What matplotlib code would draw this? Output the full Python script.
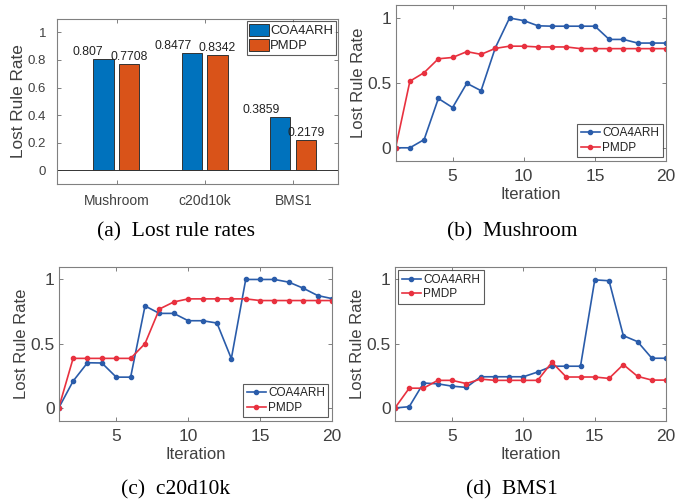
import matplotlib.pyplot as plt
import numpy as np

plt.rcParams['font.family'] = ['Liberation Sans', 'DejaVu Sans']

# (a) final lost rule rates
datasets = ["Mushroom", "c20d10k", "BMS1"]
coa_final = [0.807, 0.8477, 0.3859]
pmdp_final = [0.7708, 0.8342, 0.2179]

iterations = list(range(1, 21))

# (b) Mushroom
mush_coa = [0, 0, 0.063, 0.38, 0.31, 0.497, 0.44, 0.77, 1.0, 0.98,
            0.94, 0.937, 0.937, 0.937, 0.937, 0.835, 0.835, 0.807, 0.807, 0.807]
mush_pmdp = [0, 0.513, 0.579, 0.686, 0.696, 0.741, 0.72, 0.766, 0.783, 0.783,
             0.777, 0.777, 0.777, 0.764, 0.764, 0.764, 0.764, 0.764, 0.764, 0.764]

# (c) c20d10k
c20_coa = [0, 0.209, 0.352, 0.35, 0.24, 0.24, 0.794, 0.736, 0.736, 0.679,
           0.679, 0.661, 0.384, 1.0, 1.0, 1.0, 0.979, 0.932, 0.875, 0.851]
c20_pmdp = [0, 0.386, 0.386, 0.386, 0.386, 0.386, 0.501, 0.77, 0.825, 0.849,
            0.849, 0.849, 0.849, 0.849, 0.836, 0.836, 0.836, 0.836, 0.836, 0.836]

# (d) BMS1
bms_coa = [0, 0.01, 0.194, 0.188, 0.17, 0.16, 0.243, 0.243, 0.243, 0.243,
           0.28, 0.325, 0.325, 0.325, 0.997, 0.99, 0.563, 0.516, 0.387, 0.387]
bms_pmdp = [0, 0.154, 0.154, 0.215, 0.215, 0.19, 0.225, 0.215, 0.215, 0.215,
            0.215, 0.356, 0.241, 0.241, 0.241, 0.23, 0.338, 0.246, 0.217, 0.217]

TXT = "#404040"
SPINE = "#808080"
BLUE_BAR, ORANGE_BAR = "#0072BD", "#D95319"
BLUE_LINE, RED_LINE = "#2a5caa", "#e8313f"


def style_axes(ax, size):
    for s in ax.spines.values():
        s.set_color(SPINE)
        s.set_linewidth(0.8)
    ax.tick_params(direction="in", top=True, right=True, colors=SPINE,
                   labelcolor=TXT, labelsize=size, length=3, width=0.7)


def style_legend(leg):
    leg.get_frame().set_edgecolor("#333333")
    leg.get_frame().set_linewidth(0.8)
    for t in leg.get_texts():
        t.set_color("#222222")


def plot_iter(ax, coa, pmdp, legend_loc):
    ax.plot(iterations, coa, color=BLUE_LINE, marker="o", markersize=3,
            linewidth=1.2, label="COA4ARH")
    ax.plot(iterations, pmdp, color=RED_LINE, marker="o", markersize=3,
            linewidth=1.2, label="PMDP")
    ax.set_xlim(1, 20)
    ax.set_ylim(-0.1, 1.1)
    ax.set_xticks([5, 10, 15, 20])
    ax.set_yticks([0, 0.5, 1])
    ax.set_yticklabels(["0", "0.5", "1"])
    ax.set_xlabel("Iteration", color=TXT, fontsize=12, labelpad=2)
    ax.set_ylabel("Lost Rule Rate", color=TXT, fontsize=12, labelpad=1)
    style_axes(ax, 12.5)
    ax.tick_params(axis="x", pad=6)
    ax.tick_params(axis="y", pad=3)
    leg = ax.legend(loc=legend_loc, fontsize=8.5, frameon=True, fancybox=False,
                    handlelength=1.6, handletextpad=0.2, borderpad=0.3,
                    labelspacing=0.2, borderaxespad=0.3)
    style_legend(leg)


fig = plt.figure(figsize=(6.99, 5.04), dpi=100)

# (a)
ax_a = fig.add_axes([0.082, 0.635, 0.402, 0.328])
x = np.arange(1, len(datasets) + 1)
b1 = ax_a.bar(x - 0.147, coa_final, width=0.23, color=BLUE_BAR,
              edgecolor="#333333", linewidth=0.7, label="COA4ARH")
b2 = ax_a.bar(x + 0.143, pmdp_final, width=0.23, color=ORANGE_BAR,
              edgecolor="#333333", linewidth=0.7, label="PMDP")
ax_a.axhline(0, color="#333333", linewidth=0.7)
for rect, v in zip(b1, coa_final):
    ax_a.text(rect.get_x() + rect.get_width() / 2, v + 0.01, f"{v:g}",
              ha="right", va="bottom", fontsize=8.7, color="#222222")
for rect, v in zip(b2, pmdp_final):
    ax_a.text(rect.get_x() + rect.get_width() / 2, v + 0.01, f"{v:g}",
              ha="center", va="bottom", fontsize=8.7, color="#222222")
ax_a.set_xlim(0.33, 3.51)
ax_a.set_ylim(-0.1, 1.1)
ax_a.set_xticks(x)
ax_a.set_xticklabels(datasets)
ax_a.set_yticks([0, 0.2, 0.4, 0.6, 0.8, 1])
ax_a.set_yticklabels(["0", "0.2", "0.4", "0.6", "0.8", "1"])
ax_a.set_ylabel("Lost Rule Rate", color=TXT, fontsize=12.4, labelpad=1)
style_axes(ax_a, 9.5)
ax_a.tick_params(axis="x", labelsize=10, pad=7)
ax_a.tick_params(axis="y", pad=8)
leg = ax_a.legend(loc="upper right", fontsize=9.4, frameon=True, fancybox=False,
                  handlelength=1.5, handleheight=1.0, handletextpad=0.1,
                  borderpad=0.2, labelspacing=0.15, borderaxespad=0.2)
style_legend(leg)

# (b)
ax_b = fig.add_axes([0.566, 0.681, 0.387, 0.309])
plot_iter(ax_b, mush_coa, mush_pmdp, "lower right")

# (c)
ax_c = fig.add_axes([0.084, 0.165, 0.391, 0.306])
plot_iter(ax_c, c20_coa, c20_pmdp, "lower right")

# (d)
ax_d = fig.add_axes([0.565, 0.165, 0.388, 0.306])
plot_iter(ax_d, bms_coa, bms_pmdp, "upper left")

cap = dict(ha="center", va="baseline", fontsize=15.5,
           family="Liberation Serif", color="black")
fig.text(176 / 699, 1 - 236 / 504, "(a)  Lost rule rates", **cap)
fig.text(512 / 699, 1 - 236 / 504, "(b)  Mushroom", **cap)
fig.text(176 / 699, 1 - 494 / 504, "(c)  c20d10k", **cap)
fig.text(512 / 699, 1 - 494 / 504, "(d)  BMS1", **cap)

fig.savefig("out.png", dpi=100)
